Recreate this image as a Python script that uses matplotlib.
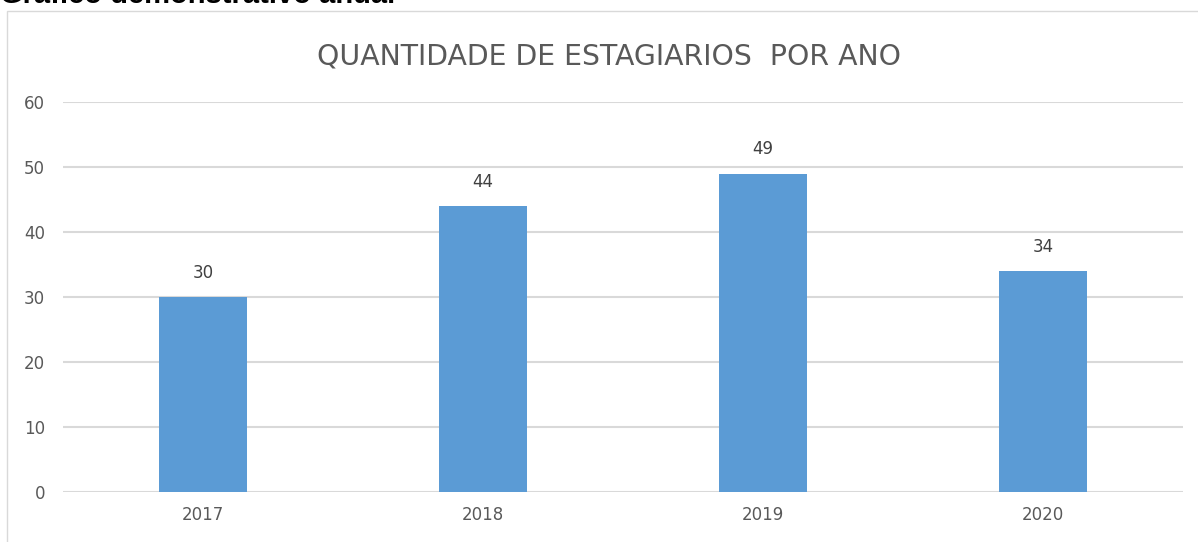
import matplotlib.pyplot as plt
from matplotlib.patches import Rectangle

anos = ['2017', '2018', '2019', '2020']
estagiarios = [30, 44, 49, 34]
titulo = 'QUANTIDADE DE ESTAGIARIOS  POR ANO'
cabecalho = 'Gráfico demonstrativo anual'

cinza = '#595959'
azul = '#5B9BD5'

fig = plt.figure(figsize=(11.98, 5.42), dpi=100)
ax = fig.add_axes([63 / 1198, 1 - 492 / 542, 1120 / 1198, 390 / 542])

# moldura do grafico (cortada a direita e embaixo)
fig.patches.append(Rectangle((7 / 1198, -0.1), 1.2, 1.1 - 11 / 542,
                             transform=fig.transFigure, fill=False,
                             edgecolor='#D9D9D9', linewidth=1))

# cabecalho do documento, cortado no topo como na imagem original
fig.text(0.0, 1 - 3 / 542, cabecalho, fontsize=21, fontweight='bold',
         family='Liberation Sans', va='baseline', ha='left', color='black')

x = range(len(anos))
bars = ax.bar(x, estagiarios, width=0.314, color=azul, zorder=3)
for xi, v in zip(x, estagiarios):
    ax.annotate(str(v), (xi, v), xytext=(0, 11), textcoords='offset points',
                ha='center', va='bottom', fontsize=12, color='#404040')

ax.set_xlim(-0.5, 3.5)
ax.set_ylim(0, 60)
ax.set_yticks(range(0, 61, 10))
ax.set_xticks(list(x))
ax.set_xticklabels(anos)
ax.grid(axis='y', color='#D9D9D9', linewidth=1.5, zorder=0)
for s in ax.spines.values():
    s.set_visible(False)
ax.tick_params(length=0, labelsize=12, labelcolor=cinza)
ax.tick_params(axis='y', pad=13)
ax.tick_params(axis='x', pad=10)

fig.text(609 / 1198, 1 - 56 / 542, titulo, fontsize=20.4, color=cinza,
         ha='center', va='center')

fig.savefig('out.png', dpi=100)
